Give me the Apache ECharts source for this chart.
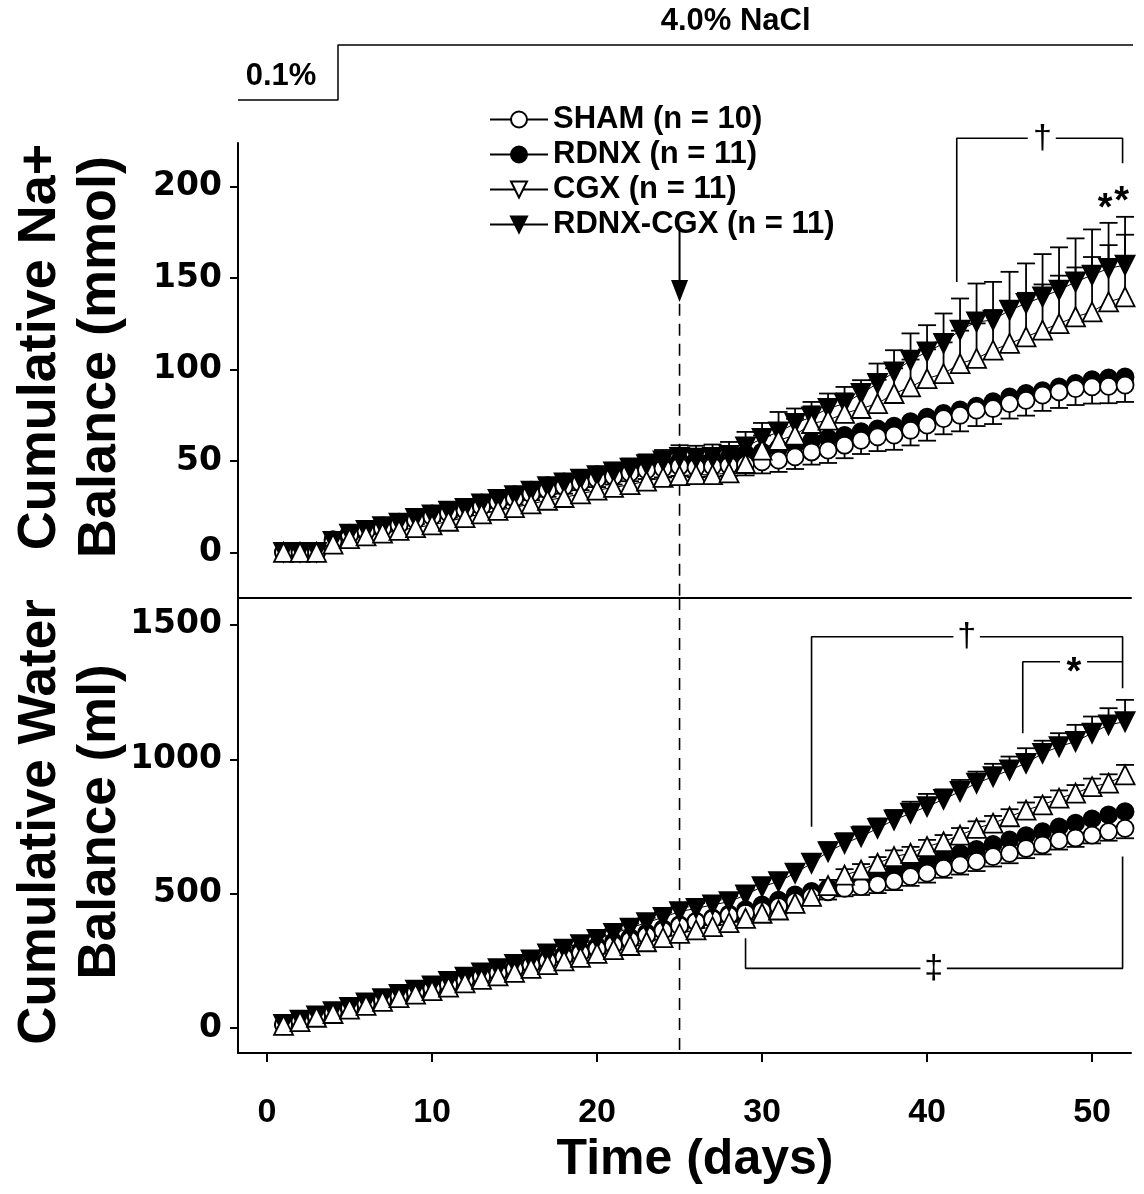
<!DOCTYPE html>
<html><head><meta charset="utf-8">
<script src="https://cdn.jsdelivr.net/npm/echarts@6/dist/echarts.min.js"></script>
<style>html,body{margin:0;padding:0;background:#fff}#c{width:1144px;height:1194px}</style>
</head><body><div id="c"></div>
<script>
// ---------- data ----------
const days = [1,2,3,4,5,6,7,8,9,10,11,12,13,14,15,16,17,18,19,20,21,22,23,24,25,26,
  27,28,29,30,31,32,33,34,35,36,37,38,39,40,41,42,43,44,45,46,47,48,49,50,51,52];
const groupNames = ['SHAM (n = 10)','RDNX (n = 11)','CGX (n = 11)','RDNX-CGX (n = 11)'];
const dayTicks = [0,10,20,30,40,50];
const naTicks = [0,50,100,150,200];
const waterTicks = [0,500,1000,1500];

// Top panel: cumulative Na+ balance (mmol)
const shamNa = [0,0,0,6,9.5,11.5,13,15,17.5,19.5, 21.5,23,25,27.5,29.5,32,34,36,38,40,
  41.5,43.5,45,46,47,46.5,47,47.5,48,49.5, 50.4,52.2,54.9,55.9,58.6,61.3,63.2,64.1,66.8,69.6,
  73.2,75,77.8,78.7,81.4,83.2,86,87.8,89.6,90.5, 90.8,91.5];
const rdnxNa = [0,0,0,7,10.5,12.5,14.5,16.5,19,21, 23,24.5,27,29.5,31.5,34,36.5,38.5,40.5,42.5,
  44,46,47.5,49,50,50.5,51,52,54,55, 57,59,61,62.5,64,66,67.5,69,71.5,74,
  76,78,80,82.5,85,87,88.5,90.5,92.5,94.5, 95.5,96];
const cgxNa = [0,0,0,4.5,7.5,9,10.5,12,13.5,15, 17,19,21,23,24.5,26.5,28.5,30,32,34,
  35.5,37,39,41,42,42.5,42.5,43.5,48.6,55.9, 61.3,64.1,70.5,72.3,76,78.7,81.4,86.9,90.5,95.1,
  97.8,103.3,106.1,110.6,114.3,117.9,121.6,125.2,128.9,131.6, 137.1,139.8];
const rdnxCgxNa = [0,0,0,6,10,12,14,16,18.5,20.5, 22.5,24,26.5,29,31,33.5,36,38,40,42,
  44,46,48,50,52,51.5,52,53,57.7,62.3, 65.9,70.5,74.1,78.7,81.4,86.9,92.4,98.7,105.1,109.7,
  114.3,121.6,126.1,127.1,132.5,136.2,139.8,143.5,148,151.7, 155.4,157.2];
const shamNaSem = [0.4,0.4,0.4,1,1.3,1.4,1.6,1.9,2,2.2, 2.5,2.6,2.9,3,3.3,3.4,3.6,3.9,4,4.3,
  4.4,4.6,4.9,5,5.2,5.3,5.5,5.6,5.9,6.3, 6.4,6.6,6.9,7,7.1,7.5,7.8,8,8.3,8.5,
  8.6,8.8,8.7,8.5,8.2,8.4,8.6,8.8,9,9.1, 9.2,9.2];
const cgxNaSem = [0.5,0.5,0.5,1,1.2,1.5,1.6,1.8,2.1,2.2, 2.4,2.7,2.8,3,3.3,3.4,3.6,3.9,4,4.2,
  4.4,4.7,4.8,5,5.2,5.5,5.6,5.8,7,8, 8.6,9,9.4,10.1,11,12.2,13,13.8,15,16,
  17.1,18,19.2,22,23,24.1,25,26.2,27,30, 31,34];
const rdnxCgxNaSem = [0.5,0.5,0.5,1.5,1.8,2,2.2,2.4,2.6,2.8, 3,3.2,3.4,3.6,3.8,4,4.2,4.4,4.6,4.8,
  5,5.3,5.6,6,6.6,6.8,7,7.4,8.2,8.5, 10.9,8.2,8.2,8.2,9.1,7.3,10.9,11.9,14.7,14.6,
  16.4,17.3,21,20.9,21,21.9,23.4,23.4,23.8,25, 24.9,26.4];

// Bottom panel: cumulative water balance (ml)
const shamW = [12,26,43,58,74,89,104,119,133,147, 161,177,191,205,219,234,249,264,279,294,
  309,326,344,362,380,395,405,418,427,436, 452,470,489,507,520,526,534,546,563,576,
  594,607,620,638,650,668,681,698,707,718, 731,743];
const rdnxW = [13,27,45,60,77,92,107,122,137,151, 165,181,195,210,225,241,257,273,289,305,
  321,337,354,370,385,398,410,425,440,458, 476,495,508,520,533,548,563,580,597,615,
  633,650,665,683,700,716,731,748,762,778, 793,805];
const cgxW = [10,24,40,54,70,84,99,113,126,139, 152,168,181,194,207,222,236,250,263,278,
  292,307,321,336,352,365,377,392,408,427, 439,464,490,530,569,588,613,638,650,675,
  693,718,743,762,786,811,830,855,874,898, 911,942];
const rdnxCgxW = [13,29,45,61,77,93,109,125,141,157, 173,189,205,221,237,253,276,293,310,330,
  352,372,392,412,433,445,458,470,495,526, 545,576,613,656,687,712,743,774,799,824,
  851,880,911,935,960,985,1022,1047,1066,1097, 1128,1140];
const shamWSem = [2,3,4,5,6,7,7,8,9,10, 10,11,12,12,13,14,14,15,16,16,
  17,18,18,19,20,21,22,23,24,25, 26,27,28,29,30,31,32,33,34,35,
  35,36,36,37,37,36,35,34,33,31, 34,37];
const cgxWSem = [2,3,3,4,4,5,5,6,6,7, 7,8,8,9,9,10,10,11,11,12,
  12,13,13,14,15,15,16,16,17,18, 18,19,20,21,22,22,23,23,24,25,
  25,26,26,27,28,28,29,29,30,30, 33,37];
const rdnxCgxWSem = [2,3,4,5,6,6,7,8,8,9, 10,10,11,12,12,13,14,14,15,16,
  16,17,18,18,19,20,20,21,22,25, 28,30,33,35,38,38,37,37,43,47,
  37,43,43,48,50,56,47,50,62,62, 62,81];

// Annotations (data coordinates: [day, value])
const saltStep = [[-1.76,0],[4.3,0],[4.3,1],[52.9,1]];
const saltLabels = [{value:[0.85,0.42], name:'0.1%'},{value:[28.4,1.42], name:'4.0% NaCl'}];
const naBrackets = [
  [[41.8,148],[41.8,226.6],[46.1,226.6]],
  [[47.8,226.6],[51.85,226.6],[51.85,212.9]]
];
const naDaggers = [{value:[47.0,226.6], name:'†'}];
const naStars = [{value:[50.8,187.5], name:'*'},{value:[51.8,191.5], name:'*'}];
const waterBrackets = [
  [[33.0,749],[33.0,1456],[41.6,1456]],
  [[43.2,1456],[51.85,1456],[51.85,1264]],
  [[45.8,1097],[45.8,1363],[48.06,1363]],
  [[49.7,1363],[51.85,1363]],
  [[29,334],[29,222],[39.6,222]],
  [[41.2,222],[51.85,222],[51.85,638]]
];
const waterDaggers = [{value:[42.4,1456], name:'†'},{value:[40.4,222], name:'‡'}];
const waterStars = [{value:[48.9,1318], name:'*'}];
const saltDay = 25;

// ---------- chart ----------
const X_MIN = -1.76, X_MAX = 52.36;
const FONT = '"Liberation Sans", Arial, sans-serif';
const WIDE = '"DejaVu Sans", sans-serif';

const styles = [
  {symbol:'circle', size:17, rotate:0, fill:'#fff'},
  {symbol:'circle', size:17, rotate:0, fill:'#000'},
  {symbol:'triangle', size:19, rotate:0, fill:'#fff'},
  {symbol:'triangle', size:19, rotate:180, fill:'#000'}
];

function pointSeries(idx, vals, g) {
  const st = styles[idx];
  return {
    type:'line', name:'g'+idx+'_'+g, xAxisIndex:g, yAxisIndex:g, z:4,
    data: days.map((d,i)=>[d, vals[i]]),
    symbol: st.symbol, symbolSize: st.size, symbolRotate: st.rotate, showSymbol:true,
    lineStyle:{color:'#000', width:1},
    itemStyle:{color:st.fill, borderColor:'#000', borderWidth:1.8},
    emphasis:{disabled:true}, silent:true
  };
}
function errRender(params, api) {
  const x = api.value(0), y = api.value(1), e = api.value(2), dir = api.value(3);
  const a = api.coord([x, y]);
  const b = api.coord([x, y + dir*e]);
  const hw = 9;
  return {type:'group', children:[
    {type:'line', shape:{x1:a[0],y1:a[1],x2:b[0],y2:b[1]}, style:{stroke:'#000', lineWidth:1.8}},
    {type:'line', shape:{x1:b[0]-hw,y1:b[1],x2:b[0]+hw,y2:b[1]}, style:{stroke:'#000', lineWidth:1.8}}
  ]};
}
function errSeries(vals, sem, dir, g) {
  return {
    type:'custom', xAxisIndex:g, yAxisIndex:g, z:3, silent:true,
    renderItem: errRender, encode:{x:0, y:1},
    data: days.map((d,i)=>[d, vals[i], sem[i], dir])
  };
}
function pathSeries(pts, g, extra) {
  return Object.assign({
    type:'line', xAxisIndex:g, yAxisIndex:g, z:2, silent:true, clip:false,
    data: pts, symbol:'none', lineStyle:{color:'#000', width:1.6}, animation:false
  }, extra || {});
}
function textSeries(items, g, size, weight) {
  return {
    type:'scatter', xAxisIndex:g, yAxisIndex:g, z:5, silent:true, clip:false,
    data: items, symbolSize:0, itemStyle:{opacity:1, color:'#000'},
    label:{show:true, position:'inside', formatter:'{b}', color:'#000', opacity:1,
      fontFamily:FONT, fontSize:size, fontWeight:weight}
  };
}

const axisLineStyle = {color:'#000', width:2};
const plainNum = v => String(v);
function xAxis(g, labels) {
  return {
    gridIndex:g, type:'value', min:X_MIN, max:X_MAX,
    axisLine:{show:true, onZero:false, lineStyle:axisLineStyle},
    axisTick:{show:labels, length:9, inside:false, lineStyle:{color:'#000', width:2}, customValues:dayTicks},
    axisLabel:{show:labels, customValues:dayTicks, margin:43, color:'#000', formatter:plainNum,
      fontFamily:FONT, fontWeight:'bold', fontSize:34},
    splitLine:{show:false}
  };
}
function yAxis(g, min, max, ticks) {
  return {
    gridIndex:g, type:'value', min:min, max:max,
    axisLine:{show:true, onZero:false, lineStyle:axisLineStyle},
    axisTick:{show:true, length:8, lineStyle:{color:'#000', width:2}, customValues:ticks},
    axisLabel:{show:true, customValues:ticks, margin:16, color:'#000', formatter:plainNum,
      fontFamily:WIDE, fontWeight:'bold', fontSize:33},
    splitLine:{show:false}
  };
}

const series = [];
// salt regime header
series.push(pathSeries(saltStep, 2, {lineStyle:{color:'#000', width:1.5}}));
series.push(textSeries(saltLabels, 2, 31, 'bold'));

// panel series
const panels = [
  {g:0, vals:[shamNa, rdnxNa, cgxNa, rdnxCgxNa], sem:{sham:shamNaSem, cgx:cgxNaSem, rc:rdnxCgxNaSem},
   brackets:naBrackets, daggers:naDaggers, stars:naStars},
  {g:1, vals:[shamW, rdnxW, cgxW, rdnxCgxW], sem:{sham:shamWSem, cgx:cgxWSem, rc:rdnxCgxWSem},
   brackets:waterBrackets, daggers:waterDaggers, stars:waterStars}
];
panels.forEach(p => {
  series.push(errSeries(p.vals[0], p.sem.sham, -1, p.g));
  series.push(errSeries(p.vals[3], p.sem.rc, 1, p.g));
  series.push(errSeries(p.vals[2], p.sem.cgx, 1, p.g));
  series.push(pointSeries(1, p.vals[1], p.g));
  series.push(pointSeries(0, p.vals[0], p.g));
  series.push(pointSeries(3, p.vals[3], p.g));
  series.push(pointSeries(2, p.vals[2], p.g));
  p.brackets.forEach(b => series.push(pathSeries(b, p.g)));
  series.push(textSeries(p.daggers, p.g, 34, 'normal'));
  series.push(textSeries(p.stars, p.g, 38, 'bold'));
});
// salt switch day: arrow + dashed line
series.push(pathSeries([[saltDay,136],[saltDay,-25]], 0, {z:1, lineStyle:{color:'#000', width:1.6, type:[12,8]}}));
series.push(pathSeries([[saltDay,1600],[saltDay,-93]], 1, {z:1, lineStyle:{color:'#000', width:1.6, type:[12,8]}}));
series.push(pathSeries([
  {value:[saltDay,177], symbol:'none'},
  {value:[saltDay,143], symbol:'triangle', symbolRotate:180, symbolSize:[17,22]}
], 0, {symbol:'none', showSymbol:true, lineStyle:{color:'#000', width:2}, itemStyle:{color:'#000'}}));
// legend-only series
groupNames.forEach((n, i) => {
  const st = styles[i];
  const legendRotate = (i === 2) ? 180 : st.rotate;
  series.push({type:'line', name:n, xAxisIndex:0, yAxisIndex:0, data:[],
    symbol:st.symbol, symbolRotate:legendRotate, symbolSize:st.size,
    lineStyle:{color:'#000', width:1.2},
    itemStyle:{color:st.fill, borderColor:'#000', borderWidth:1.8}});
});

const option = {
  animation:false,
  backgroundColor:'#fff',
  grid:[
    {left:238, width:893, top:143, height:455},
    {left:238, width:893, top:598, height:455},
    {left:238, width:893, top:45, height:55}
  ],
  xAxis:[xAxis(0,false), xAxis(1,true), {gridIndex:2, type:'value', min:X_MIN, max:X_MAX, show:false}],
  yAxis:[yAxis(0,-25,224,naTicks), yAxis(1,-93,1600,waterTicks), {gridIndex:2, type:'value', min:0, max:1, show:false}],
  legend:{
    data:groupNames, orient:'vertical', left:484, top:99, itemWidth:58, itemHeight:20, itemGap:4,
    selectedMode:false,
    textStyle:{fontFamily:FONT, fontWeight:'bold', fontSize:31, color:'#000', lineHeight:28}
  },
  graphic:[
    {type:'text', x:40, y:347, rotation:Math.PI/2, style:{text:'Cumulative Na+', fontFamily:FONT, fontWeight:'bold', fontSize:54, fill:'#000', align:'center', verticalAlign:'middle'}},
    {type:'text', x:100, y:357, rotation:Math.PI/2, style:{text:'Balance (mmol)', fontFamily:FONT, fontWeight:'bold', fontSize:54, fill:'#000', align:'center', verticalAlign:'middle'}},
    {type:'text', x:40, y:822, rotation:Math.PI/2, style:{text:'Cumulative Water', fontFamily:FONT, fontWeight:'bold', fontSize:53, fill:'#000', align:'center', verticalAlign:'middle'}},
    {type:'text', x:100, y:822, rotation:Math.PI/2, style:{text:'Balance (ml)', fontFamily:FONT, fontWeight:'bold', fontSize:53, fill:'#000', align:'center', verticalAlign:'middle'}},
    {type:'text', x:695, y:1160, style:{text:'Time (days)', fontFamily:FONT, fontWeight:'bold', fontSize:50, fill:'#000', align:'center', verticalAlign:'middle'}}
  ],
  series: series
};
const chart = echarts.init(document.getElementById('c'), null, {renderer:'canvas'});
chart.setOption(option);
</script>
</body></html>
